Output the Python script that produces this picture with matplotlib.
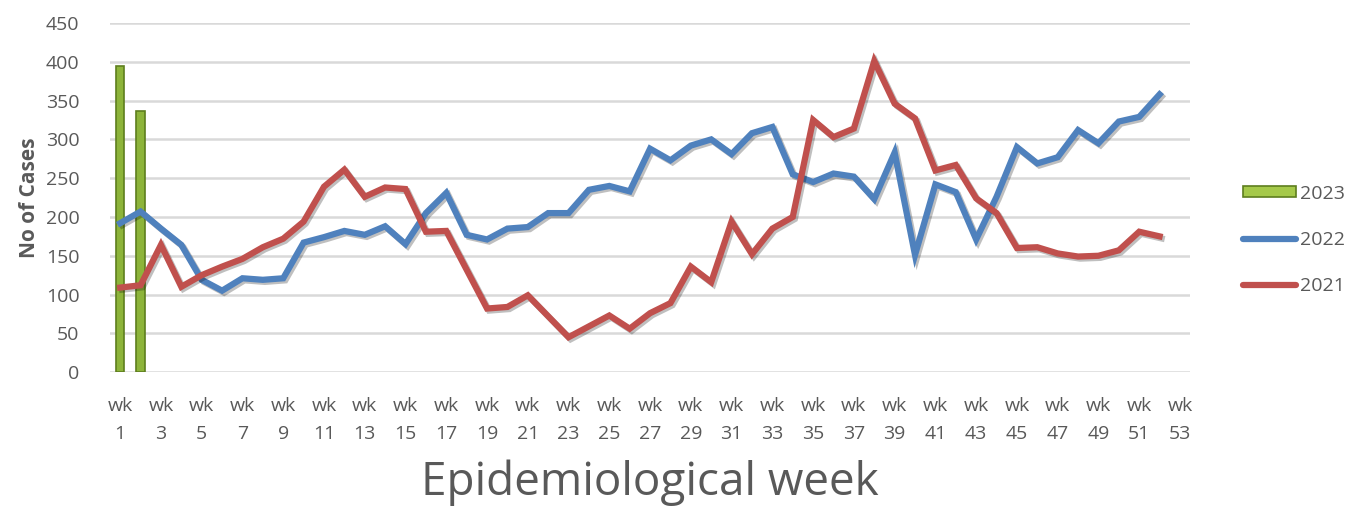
import matplotlib.pyplot as plt
import matplotlib.patheffects as pe
from matplotlib.patches import Patch
from matplotlib.lines import Line2D

plt.rcParams['font.family'] = ['Open Sans', 'DejaVu Sans']

weeks = list(range(1, 54))
tick_labels = ["wk\n%d" % w for w in weeks]

cases_2023 = [394, 337]
cases_2022 = [192, 207, 185, 164, 119, 105, 121, 119, 121, 167, 174, 182, 177, 188, 165, 205,
              231, 177, 171, 185, 187, 205, 205, 235, 240, 233, 288, 273, 292, 300, 281, 308,
              316, 255, 245, 256, 252, 223, 283, 151, 242, 232, 171, 226, 290, 269, 277, 312,
              295, 323, 329, 358]
cases_2021 = [109, 112, 164, 110, 125, 136, 146, 161, 172, 194, 239, 261, 226, 238, 236, 181,
              182, 132, 82, 84, 99, 72, 45, 59, 73, 56, 76, 89, 136, 116, 194, 152,
              185, 200, 325, 303, 314, 401, 346, 327, 260, 267, 224, 205, 160, 161, 153, 149,
              150, 157, 181, 175]

grey = '#595959'
blue = '#4F81BD'
red = '#C0504D'
green = '#8DB43A'

fig = plt.figure(figsize=(13.68, 5.07), dpi=100)
ax = fig.add_axes([0.0804, 0.266, 0.7896, 0.6886])

x = list(range(len(weeks)))
shadow = [pe.SimpleLineShadow(offset=(1.5, -1.5), alpha=0.25), pe.Normal()]

ax.bar(x[:len(cases_2023)], cases_2023, width=0.42, color=green, edgecolor='#5E7E1E',
       linewidth=1.2, zorder=2)
ax.plot(x[:len(cases_2022)], cases_2022, color=blue, lw=4.5, solid_joinstyle='miter',
        path_effects=shadow, zorder=3)
ax.plot(x[:len(cases_2021)], cases_2021, color=red, lw=4.5, solid_joinstyle='miter',
        path_effects=shadow, zorder=3)

ax.set_xlim(-0.5, len(weeks) - 0.5)
ax.set_ylim(0, 450)
ax.set_yticks(range(0, 451, 50))
ax.set_xticks(x[::2])
ax.set_xticklabels(tick_labels[::2], linespacing=1.7)
ax.grid(axis='y', color='#D9D9D9', lw=1.8, zorder=0)
ax.set_axisbelow(True)
for s in ax.spines.values():
    s.set_visible(False)
ax.tick_params(length=0, labelsize=14, colors=grey)
ax.tick_params(axis='x', pad=18)
ax.tick_params(axis='y', pad=22)

ax.set_ylabel('No of Cases', fontsize=15, fontweight='bold', color=grey, labelpad=4)
ax.set_xlabel('Epidemiological week', fontsize=33, color=grey, labelpad=12)

handles = [Patch(facecolor='#A5C94A', edgecolor='#5E7E1E', lw=1.2),
           Line2D([], [], color=blue, lw=4.5, solid_capstyle='round'),
           Line2D([], [], color=red, lw=4.5, solid_capstyle='round')]
leg = fig.legend(handles, ['2023', '2022', '2021'], loc='center left',
                 bbox_to_anchor=(0.896, 0.527), frameon=False, fontsize=14,
                 labelspacing=1.45, handlelength=2.7, handletextpad=0.2,
                 handleheight=0.5)
for t in leg.get_texts():
    t.set_color(grey)

fig.savefig('out.png', dpi=100)
